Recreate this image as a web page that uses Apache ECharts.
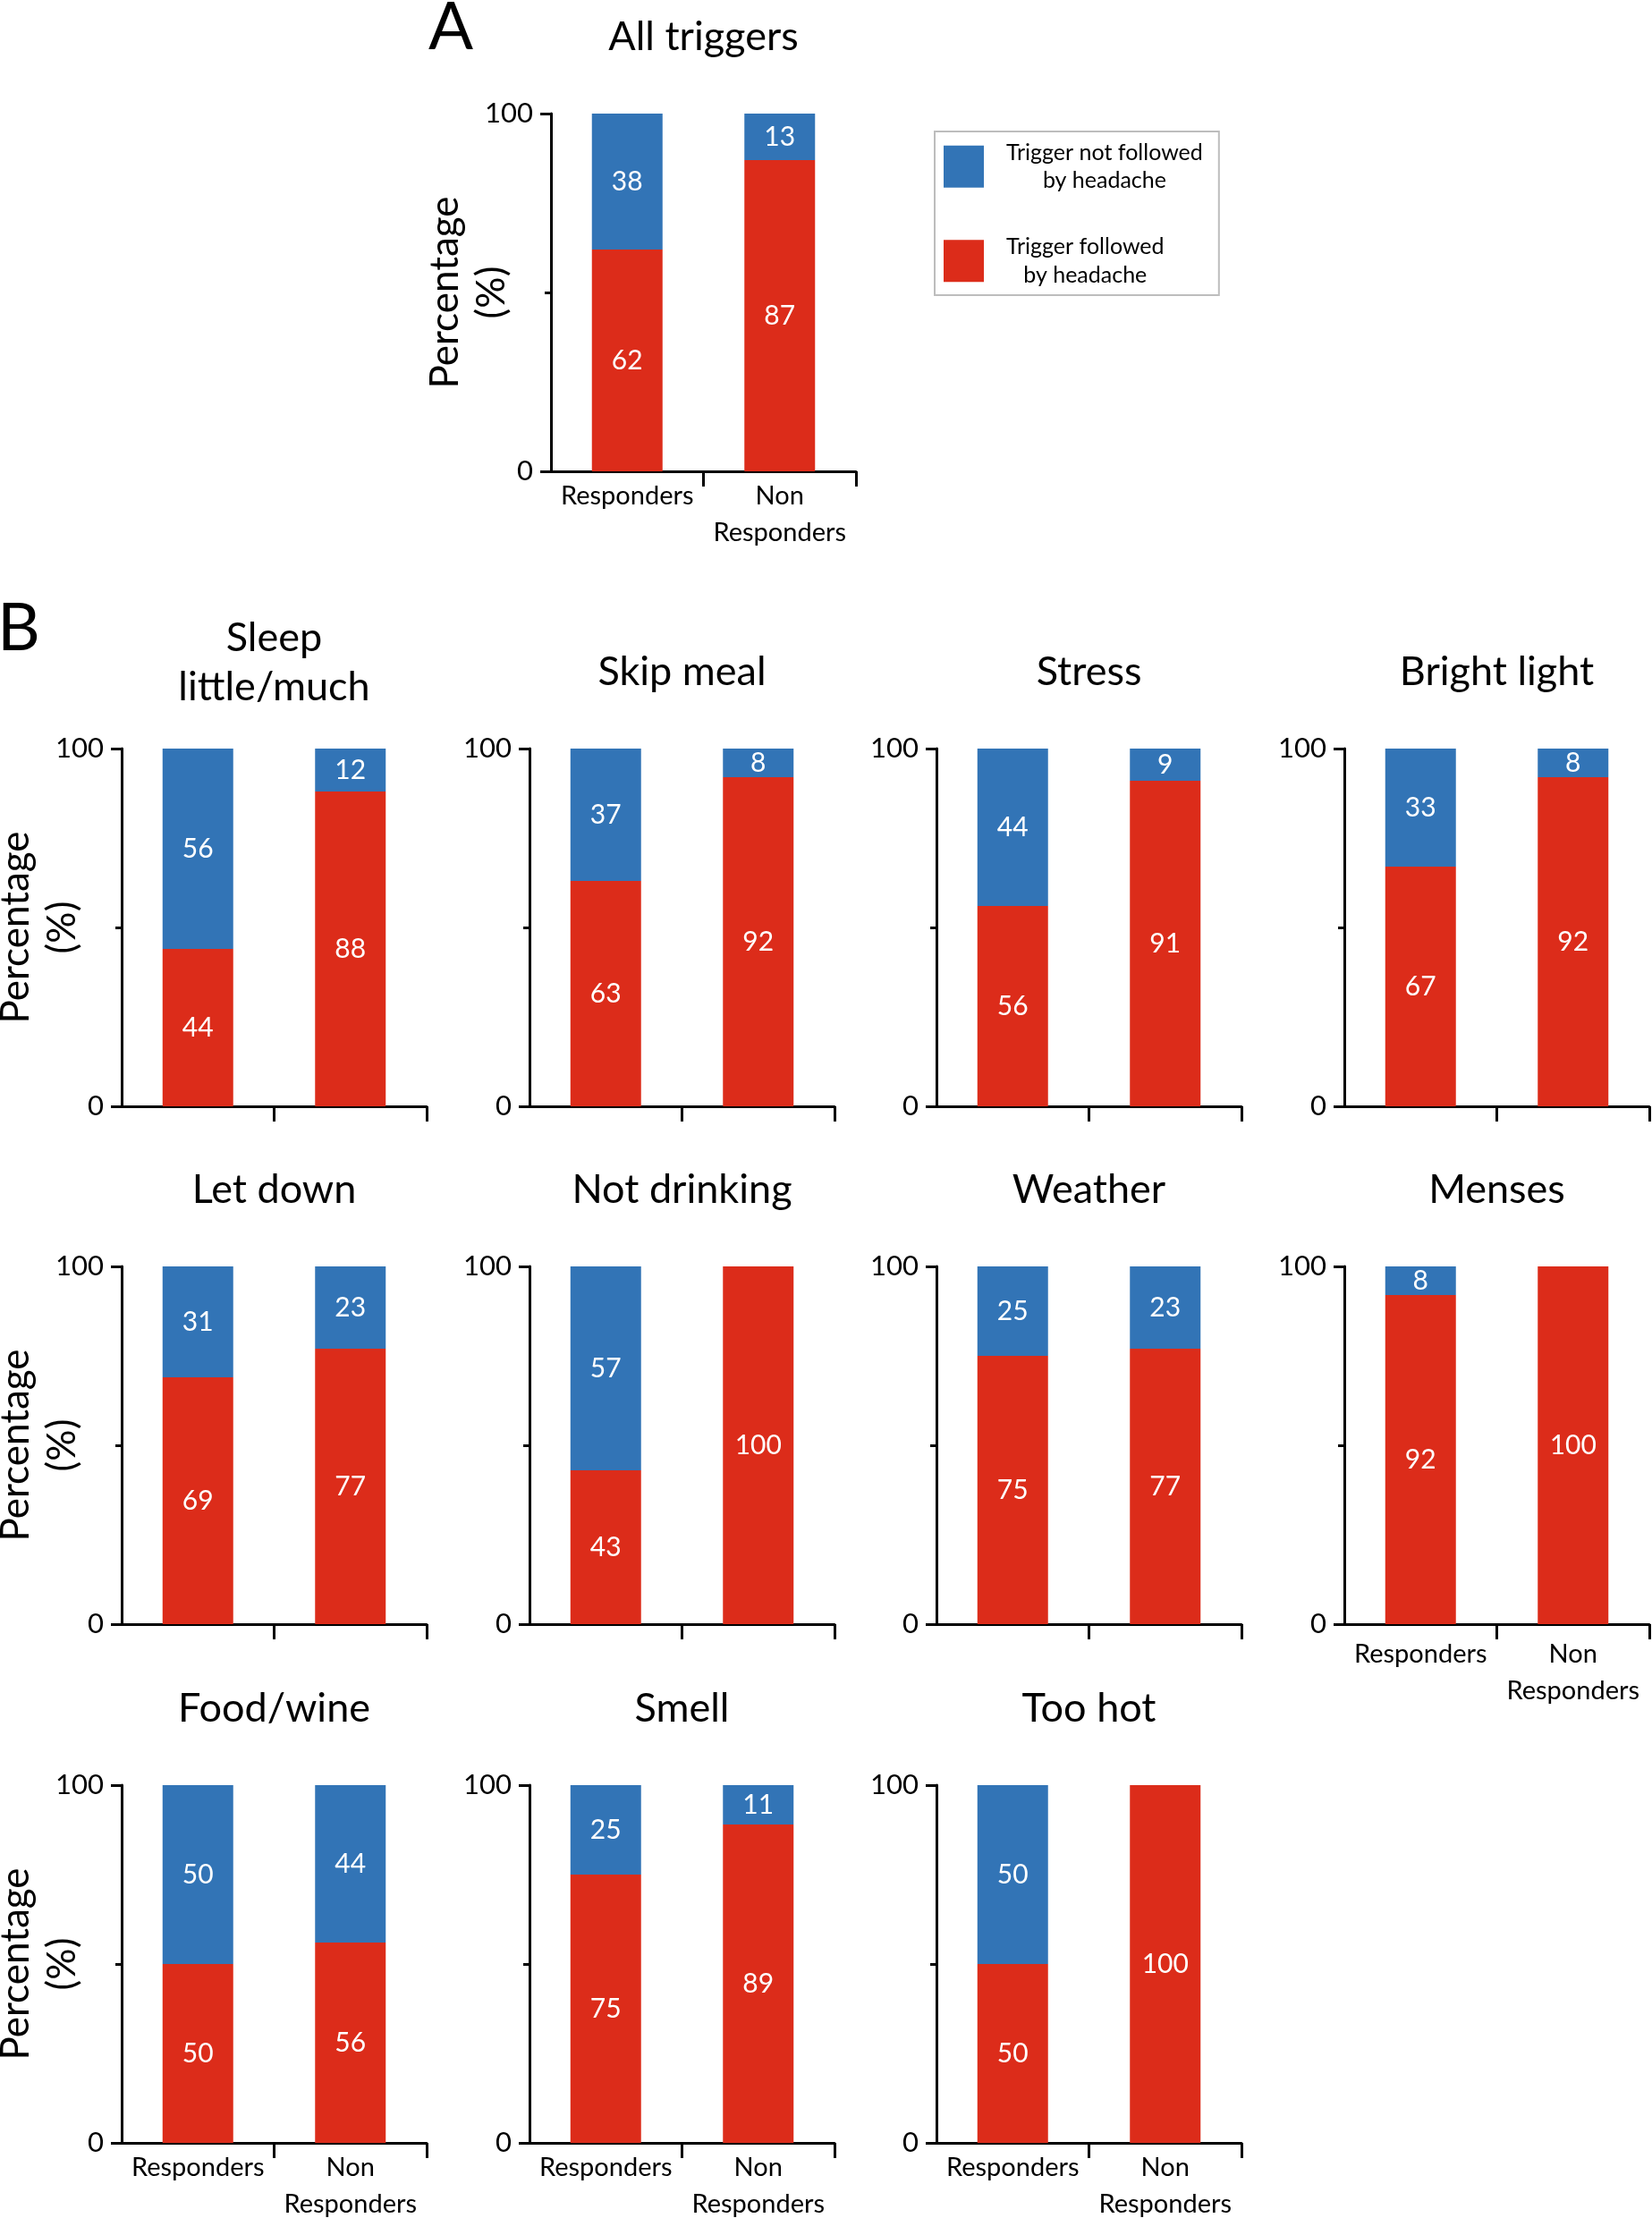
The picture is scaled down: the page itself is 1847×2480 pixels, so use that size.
<!DOCTYPE html>
<html>
<head>
<meta charset="utf-8">
<script src="https://cdn.jsdelivr.net/npm/echarts@6/dist/echarts.min.js"></script>
<style>
html,body{margin:0;padding:0;background:#fff;}
#chart{width:1847px;height:2480px;}
</style>
</head>
<body>
<div id="chart"></div>
<script>
// ---------------- DATA ----------------
const groups = ['Responders', 'Non\nResponders'];
const triggers = ['All triggers', 'Sleep\nlittle/much', 'Skip meal', 'Stress', 'Bright light',
  'Let down', 'Not drinking', 'Weather', 'Menses', 'Food/wine', 'Smell', 'Too hot'];
const followedResponders    = [62, 44, 63, 56, 67, 69, 43, 75, 92, 50, 75, 50];
const followedNonResponders = [87, 88, 92, 91, 92, 77, 100, 77, 100, 56, 89, 100];
const notFollowedResponders    = [38, 56, 37, 44, 33, 31, 57, 25, 8, 50, 25, 50];
const notFollowedNonResponders = [13, 12, 8, 9, 8, 23, 0, 23, 0, 44, 11, 0];
const seriesNames = ['Trigger followed\nby headache', 'Trigger not followed\nby headache'];
const yAxisName = 'Percentage\n(%)';
const panelLetters = ['A', 'B'];

// ---------------- LAYOUT / STYLE ----------------
const FONT = 'Lato, "Open Sans", sans-serif';
const RED = '#dc2c1a';
const BLUE = '#3274b6';
const colLeft = [136, 592, 1047, 1503];
const rowTop = [837, 1416, 1996];
const rowTitleY = [751, 1330, 1910];
const GW = 341, GH = 400;

function panelGeom(i) {
  if (i === 0) return {left: 616, top: 127, titleY: 41, col: -1, row: -1};
  const col = (i - 1) % 4, row = Math.floor((i - 1) / 4);
  return {left: colLeft[col], top: rowTop[row], titleY: rowTitleY[row], col, row};
}

const grid = [], xAxis = [], yAxis = [], series = [], title = [];

triggers.forEach((name, i) => {
  const g = panelGeom(i);
  const showXLabels = i === 0 || i === 8 || g.row === 2;
  const showYName = i === 0 || g.col === 0;
  grid.push({left: g.left, top: g.top, width: GW, height: GH,
    containLabel: false, outerBoundsMode: 'none'});

  xAxis.push({
    type: 'category', gridIndex: i, data: groups, position: 'bottom',
    axisLine: {show: true, lineStyle: {color: '#000', width: 3}},
    axisTick: {show: false},
    axisLabel: {show: showXLabels, interval: 0, margin: (i === 8 ? 13 : 7), color: '#000',
      fontFamily: FONT, fontSize: 29, lineHeight: 41},
    splitLine: {show: false}
  });
  xAxis.push({
    type: 'value', gridIndex: i, min: 0, max: 2, interval: 1, position: 'bottom',
    axisLine: {show: false},
    axisTick: {show: true, customValues: [1, 2], length: 17, lineStyle: {color: '#000', width: 3}},
    axisLabel: {show: false},
    splitLine: {show: false}
  });

  yAxis.push({
    type: 'value', gridIndex: i, min: 0, max: 100, interval: 100,
    axisLine: {show: true, lineStyle: {color: '#000', width: 3}},
    axisTick: {show: true, length: 12, lineStyle: {color: '#000', width: 3}},
    minorTick: {show: true, splitNumber: 2, length: 7, lineStyle: {color: '#000', width: 3}},
    axisLabel: {margin: 20, color: '#000', fontFamily: FONT, fontSize: 31},
    splitLine: {show: false},
    name: showYName ? yAxisName : '',
    nameLocation: 'middle', nameRotate: 90, nameGap: 40, nameMoveOverlap: false,
    nameTextStyle: {color: '#000', fontFamily: FONT, fontSize: 44, lineHeight: 52}
  });

  const label = {
    show: true, position: 'inside', color: '#fff', fontFamily: FONT, fontSize: 30,
    formatter: p => (p.value > 0 ? String(p.value) : '')
  };
  series.push({
    type: 'bar', name: seriesNames[0], xAxisIndex: 2 * i, yAxisIndex: i,
    stack: 'p' + i, barWidth: 79,
    data: [followedResponders[i], followedNonResponders[i]],
    itemStyle: {color: RED}, label
  });
  series.push({
    type: 'bar', name: seriesNames[1], xAxisIndex: 2 * i, yAxisIndex: i,
    stack: 'p' + i, barWidth: 79,
    data: [notFollowedResponders[i], notFollowedNonResponders[i]],
    itemStyle: {color: BLUE}, label
  });

  const titleY = (i === 1) ? 741 : g.titleY;
  title.push({
    text: name, left: g.left + GW / 2, top: titleY, padding: 0,
    textAlign: 'center', textVerticalAlign: 'middle',
    textStyle: {color: '#000', fontFamily: FONT, fontSize: 45, fontWeight: 'normal', lineHeight: 55}
  });
});

title.push({text: panelLetters[0], left: 504, top: 31, padding: 0, textAlign: 'center', textVerticalAlign: 'middle',
  textStyle: {color: '#000', fontFamily: FONT, fontSize: 74, fontWeight: 'normal'}});
title.push({text: panelLetters[1], left: 21, top: 703, padding: 0, textAlign: 'center', textVerticalAlign: 'middle',
  textStyle: {color: '#000', fontFamily: FONT, fontSize: 74, fontWeight: 'normal'}});

const option = {
  animation: false,
  backgroundColor: '#fff',
  title,
  legend: {
    data: [seriesNames[1], seriesNames[0]],
    left: 1045, top: 147, orient: 'vertical',
    padding: [11, 18, 10, 10], itemGap: 49,
    itemWidth: 65, itemHeight: 47,
    icon: 'path://M0 0H45V47H0Z M65 0H65.01V0.01H65Z',
    selectedMode: false,
    borderColor: '#bdbdbd', borderWidth: 2,
    formatter: n => '{t|' + n + '}',
    textStyle: {color: '#000', fontFamily: FONT, fontSize: 25,
      rich: {t: {align: 'center', fontFamily: FONT, fontSize: 25, lineHeight: 31.5, color: '#000'}}}
  },
  grid, xAxis, yAxis, series
};

const chart = echarts.init(document.getElementById('chart'), null, {renderer: 'canvas'});
chart.setOption(option);
</script>
</body>
</html>
